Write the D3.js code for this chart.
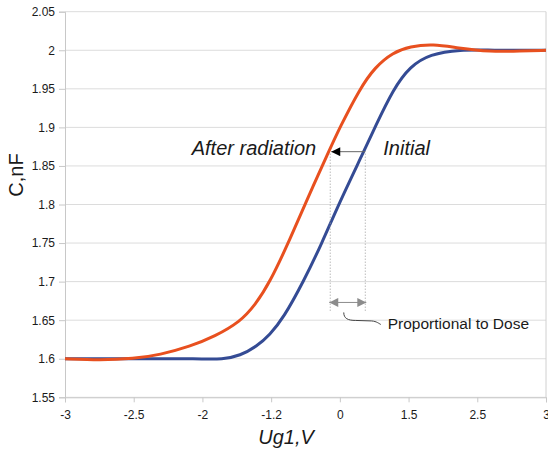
<!DOCTYPE html>
<html>
<head>
<meta charset="utf-8">
<script src="https://cdn.jsdelivr.net/npm/d3@7"></script>
<style>
  body { margin: 0; background: #fff; }
  #chart-holder { width: 548px; height: 450px; }
  text { font-family: "Liberation Sans", Arial, Helvetica, sans-serif; fill: #1a1a1a; }
</style>
</head>
<body>
<div id="chart-holder"></div>
<script>
var width = 548;
var height = 450;

// x axis is evenly spaced, labels are not
var xTickLabels = ["-3", "-2.5", "-2", "-1.2", "0", "1.5", "2.5", "3"];
var yTicks = [1.55, 1.6, 1.65, 1.7, 1.75, 1.8, 1.85, 1.9, 1.95, 2, 2.05];

// position along the axis (0 = "-3" ... 7 = "3"), capacitance in nF
var initialX = [0, 1.0, 1.97, 2.29, 2.55, 2.79, 2.98, 3.18, 3.47, 3.74, 3.98, 4.35, 4.51, 4.78, 5.02, 5.31, 5.75, 6.19, 7.0];
var initialC = [1.600, 1.600, 1.600, 1.599, 1.604, 1.616, 1.631, 1.653, 1.700, 1.750, 1.800, 1.869, 1.900, 1.950, 1.979, 1.995, 2.001, 2.000, 2.000];

var afterX = [0, 0.51, 1.0, 1.38, 1.82, 2.18, 2.55, 2.77, 2.98, 3.25, 3.49, 3.84, 4.00, 4.29, 4.51, 4.77, 5.02, 5.36, 5.71, 6.19, 6.62, 7.0];
var afterC = [1.600, 1.598, 1.600, 1.605, 1.616, 1.629, 1.648, 1.670, 1.699, 1.750, 1.800, 1.869, 1.900, 1.950, 1.978, 1.997, 2.005, 2.008, 2.003, 1.998, 1.999, 2.000];

// shift annotation: level of the arrow, where the curves cross it, foot of the dotted lines
var shiftLevel = 1.8685;
var shiftFrom = 4.37;
var shiftTo = 3.86;
var dropLevel = 1.661;
var bracketLevel = 1.673;

var svg = d3.select("#chart-holder")
  .append("svg")
  .attr("width", width)
  .attr("height", height);

var x = d3.scaleLinear().domain([0, 7]).range([65, 546]);
var y = d3.scaleLinear().domain([1.55, 2.05]).range([397.3, 11.7]);

var defs = svg.append("defs");
defs.append("marker")
  .attr("id", "black-head")
  .attr("viewBox", "0 0 10 10")
  .attr("refX", 10).attr("refY", 5)
  .attr("markerUnits", "userSpaceOnUse")
  .attr("markerWidth", 14).attr("markerHeight", 9)
  .attr("orient", "auto")
  .append("path")
  .attr("d", "M0,0L10,5L0,10Z")
  .attr("fill", "#000");
defs.append("marker")
  .attr("id", "gray-head")
  .attr("viewBox", "0 0 10 10")
  .attr("refX", 10).attr("refY", 5)
  .attr("markerUnits", "userSpaceOnUse")
  .attr("markerWidth", 14).attr("markerHeight", 9)
  .attr("orient", "auto-start-reverse")
  .append("path")
  .attr("d", "M0,0L10,5L0,10Z")
  .attr("fill", "#8c8c8c");

// grid
svg.append("g")
  .selectAll("line")
  .data(yTicks)
  .enter()
  .append("line")
  .attr("x1", x(0))
  .attr("x2", x(7))
  .attr("y1", function(d) { return y(d); })
  .attr("y2", function(d) { return y(d); })
  .attr("stroke", "#dcdcdc")
  .attr("stroke-width", 1);

// right frame
svg.append("line")
  .attr("x1", x(7)).attr("x2", x(7))
  .attr("y1", y(2.05)).attr("y2", y(1.55))
  .attr("stroke", "#d0d0d0");

var yAxis = svg.append("g")
  .attr("transform", "translate(" + x(0) + ",0)")
  .call(d3.axisLeft(y).tickValues(yTicks).tickSize(6).tickPadding(4)
    .tickFormat(function(d) { return d3.format("")(+d.toFixed(2)); }));

var xAxis = svg.append("g")
  .attr("transform", "translate(0," + y(1.55) + ")")
  .call(d3.axisBottom(x).tickValues(d3.range(8)).tickSize(5).tickPadding(8)
    .tickFormat(function(d) { return xTickLabels[d]; }));

[yAxis, xAxis].forEach(function(a) {
  a.select(".domain").attr("stroke", "#c8c8c8");
  a.selectAll(".tick line").attr("stroke", "#c8c8c8");
  a.selectAll(".tick text")
    .attr("fill", "#1a1a1a")
    .style("font-size", "12px")
    .style("font-family", "Liberation Sans, Arial, sans-serif");
});

// axis titles
svg.append("text")
  .attr("transform", "translate(23,175) rotate(-90)")
  .attr("text-anchor", "middle")
  .style("font-size", "20px")
  .text("C,nF");

svg.append("text")
  .attr("x", 286)
  .attr("y", 444)
  .attr("text-anchor", "middle")
  .style("font-size", "20px")
  .style("font-style", "italic")
  .text("Ug1,V");

// curves (b-spline to keep them smooth like the original)
var line = d3.line()
  .x(function(d) { return x(d[0]); })
  .y(function(d) { return y(d[1]); })
  .curve(d3.curveBasis);

svg.append("path")
  .datum(d3.zip(initialX, initialC))
  .attr("d", line)
  .attr("fill", "none")
  .attr("stroke", "#344b94")
  .attr("stroke-width", 3);

svg.append("path")
  .datum(d3.zip(afterX, afterC))
  .attr("d", line)
  .attr("fill", "none")
  .attr("stroke", "#e8501f")
  .attr("stroke-width", 3);

// shift arrow
svg.append("line")
  .attr("x1", x(shiftFrom)).attr("x2", x(shiftTo) + 1)
  .attr("y1", y(shiftLevel)).attr("y2", y(shiftLevel))
  .attr("stroke", "#666")
  .attr("stroke-width", 1)
  .attr("marker-end", "url(#black-head)");

// dotted drop lines
svg.append("g")
  .selectAll("line")
  .data([shiftTo, shiftFrom])
  .enter()
  .append("line")
  .attr("x1", function(d) { return x(d); })
  .attr("x2", function(d) { return x(d); })
  .attr("y1", y(shiftLevel) + 2)
  .attr("y2", y(dropLevel))
  .attr("stroke", "#9a9a9a")
  .attr("stroke-width", 1)
  .attr("stroke-dasharray", "1,2");

// double-headed gray arrow
svg.append("line")
  .attr("x1", x(shiftTo) - 1).attr("x2", x(shiftFrom) + 1)
  .attr("y1", y(bracketLevel)).attr("y2", y(bracketLevel))
  .attr("stroke", "#8c8c8c")
  .attr("stroke-width", 1)
  .attr("marker-start", "url(#gray-head)")
  .attr("marker-end", "url(#gray-head)");

// callout leader
var cx = (x(shiftTo) + x(shiftFrom)) / 2 - 4;
var cy = y(bracketLevel) + 10;
var leader = d3.path();
leader.moveTo(cx, cy);
leader.bezierCurveTo(cx, cy + 6, cx + 4, cy + 8, cx + 12, cy + 8);
leader.lineTo(cx + 28, cy + 8.5);
leader.bezierCurveTo(cx + 33, cy + 9, cx + 35, cy + 11, cx + 37, cy + 12);
svg.append("path")
  .attr("d", leader.toString())
  .attr("fill", "none")
  .attr("stroke", "#444")
  .attr("stroke-width", 1);

// labels
svg.append("text")
  .attr("x", x(shiftTo) - 14)
  .attr("y", y(shiftLevel) + 3.5)
  .attr("text-anchor", "end")
  .style("font-size", "20px")
  .style("font-style", "italic")
  .text("After radiation");

svg.append("text")
  .attr("x", x(shiftFrom) + 18)
  .attr("y", y(shiftLevel) + 3.5)
  .style("font-size", "20px")
  .style("font-style", "italic")
  .text("Initial");

svg.append("text")
  .attr("x", cx + 44)
  .attr("y", cy + 17)
  .style("font-size", "15.5px")
  .text("Proportional to Dose");
</script>
</body>
</html>
